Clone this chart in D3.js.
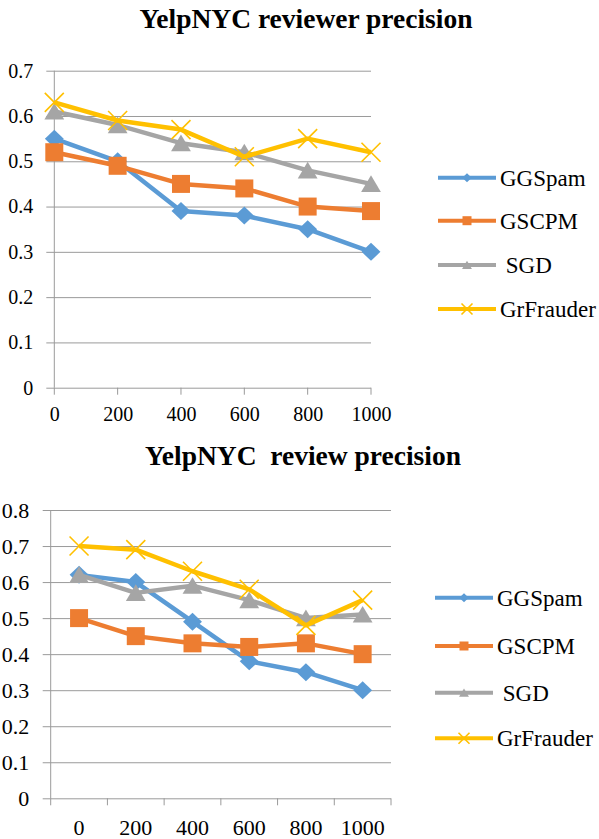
<!DOCTYPE html>
<html>
<head>
<meta charset="utf-8">
<script src="https://cdn.jsdelivr.net/npm/d3@7"></script>
<style>
  body { margin: 0; background: #fff; }
</style>
</head>
<body>
<div id="chart"></div>
<script>
const FONT = "'Liberation Serif', 'Times New Roman', serif";

// x categories shared by both charts
const xLabels = ["0", "200", "400", "600", "800", "1000"];
const seriesNames = ["GGSpam", "GSCPM", "SGD", "GrFrauder"];
const legendLabels = ["GGSpam", "GSCPM", " SGD", "GrFrauder"];
const colors = ["#5B9BD5", "#ED7D31", "#A5A5A5", "#FFC000"];

// chart 1: reviewer precision
const reviewerGGSpam = [0.55, 0.50, 0.39, 0.38, 0.35, 0.30];
const reviewerGSCPM = [0.52, 0.49, 0.45, 0.44, 0.40, 0.39];
const reviewerSGD = [0.61, 0.58, 0.54, 0.52, 0.48, 0.45];
const reviewerGrFrauder = [0.63, 0.59, 0.57, 0.51, 0.55, 0.52];
const reviewerTicks = [0, 0.1, 0.2, 0.3, 0.4, 0.5, 0.6, 0.7];

// chart 2: review precision
const reviewGGSpam = [0.62, 0.60, 0.49, 0.38, 0.35, 0.30];
const reviewGSCPM = [0.50, 0.45, 0.43, 0.42, 0.43, 0.40];
const reviewSGD = [0.62, 0.57, 0.59, 0.55, 0.50, 0.51];
const reviewGrFrauder = [0.70, 0.69, 0.63, 0.58, 0.48, 0.55];
const reviewTicks = [0, 0.1, 0.2, 0.3, 0.4, 0.5, 0.6, 0.7, 0.8];

const svg = d3.select("#chart").append("svg")
    .attr("width", 599)
    .attr("height", 839)
    .attr("font-family", FONT);

// marker paths, centred on 0,0
function markerPath(i, s) {
    if (i === 0) return `M0,${-s}L${s * 1.05},0L0,${s}L${-s * 1.05},0Z`;
    if (i === 1) return `M${-s},${-s}H${s}V${s}H${-s}Z`;
    if (i === 2) return `M0,${-s * 0.95}L${s * 1.1},${s * 0.9}L${-s * 1.1},${s * 0.9}Z`;
    return `M${-s},${-s}L${s},${s}M${s},${-s}L${-s},${s}`;
}

function drawMarker(g, i, x, y, s) {
    const p = g.append("path")
        .attr("transform", `translate(${x},${y})`)
        .attr("d", markerPath(i, s));
    if (i === 3) {
        p.attr("fill", "none").attr("stroke", colors[i]).attr("stroke-width", 1.6);
    } else {
        p.attr("fill", colors[i]);
    }
}

function drawChart(cfg) {
    const g = svg.append("g");
    const y = d3.scaleLinear().domain([0, cfg.yMax]).range([cfg.bottom, cfg.top]);
    let x;
    if (cfg.band) {
        x = d3.scaleBand().domain(xLabels).range([cfg.left, cfg.right]);
    } else {
        x = d3.scalePoint().domain(xLabels).range([cfg.left, cfg.right]);
    }
    const cx = d => cfg.band ? x(d) + x.bandwidth() / 2 : x(d);

    // title
    g.append("text")
        .attr("x", cfg.titleX)
        .attr("y", cfg.titleY)
        .attr("text-anchor", "middle")
        .style("font-family", FONT)
        .style("font-size", "27.5px")
        .style("font-weight", "bold")
        .style("white-space", "pre")
        .text(cfg.title);

    // y axis with gridlines
    const yAxis = g.append("g")
        .attr("transform", `translate(${cfg.left},0)`)
        .call(d3.axisLeft(y).tickValues(cfg.ticks).tickFormat(d => d === 0 ? "0" : d3.format(".1f")(d)).tickSizeOuter(0));
    yAxis.attr("font-family", FONT);
    yAxis.select(".domain").remove();
    yAxis.selectAll(".tick line")
        .attr("x1", -8)
        .attr("x2", cfg.right - cfg.left)
        .attr("stroke", "#9a9a9a");
    yAxis.selectAll(".tick text")
        .attr("x", -cfg.labelGap)
        .attr("fill", "#000")
        .style("font-family", FONT)
        .style("font-size", cfg.fontSize + "px");

    g.append("line")
        .attr("x1", cfg.left).attr("x2", cfg.left)
        .attr("y1", cfg.top).attr("y2", cfg.bottom)
        .attr("stroke", "#9a9a9a");

    // x axis
    const xAxis = g.append("g")
        .attr("transform", `translate(0,${cfg.bottom})`)
        .call(d3.axisBottom(x).tickSize(0));
    xAxis.attr("font-family", FONT);
    xAxis.select(".domain").remove();
    xAxis.selectAll(".tick text")
        .attr("y", cfg.xLabelY)
        .attr("dy", 0)
        .attr("fill", "#000")
        .style("font-family", FONT)
        .style("font-size", cfg.fontSize + "px");

    // x tick marks
    const tickXs = cfg.band
        ? xLabels.map(d => x(d)).concat([cfg.right])
        : xLabels.map(d => x(d));
    g.selectAll(null).data(tickXs).enter().append("line")
        .attr("x1", d => d).attr("x2", d => d)
        .attr("y1", cfg.bottom).attr("y2", cfg.bottom + 7)
        .attr("stroke", "#9a9a9a");

    // series lines + markers
    const line = d3.line().x((d, i) => cx(xLabels[i])).y(d => y(d));
    cfg.series.forEach((vals, si) => {
        g.append("path")
            .attr("d", line(vals))
            .attr("fill", "none")
            .attr("stroke", colors[si])
            .attr("stroke-width", 4.5)
            .attr("stroke-linejoin", "round");
        vals.forEach((v, i) => drawMarker(g, si, cx(xLabels[i]), y(v), si === 3 ? 9.5 : 9));
    });

    // legend
    legendLabels.forEach((name, i) => {
        const ly = cfg.legendY[i];
        g.append("line")
            .attr("x1", cfg.legendX).attr("x2", cfg.legendX + 58)
            .attr("y1", ly).attr("y2", ly)
            .attr("stroke", colors[i])
            .attr("stroke-width", 4);
        drawMarker(g, i, cfg.legendX + 29, ly, i === 3 ? 5.5 : 4.5);
        g.append("text")
            .attr("x", cfg.legendX + 62)
            .attr("y", ly)
            .attr("dy", "0.35em")
            .style("font-family", FONT)
            .style("font-size", "23px")
            .style("white-space", "pre")
            .text(name);
    });
}

drawChart({
    title: "YelpNYC reviewer precision",
    titleX: 306, titleY: 28,
    top: 70.7, bottom: 387.7, left: 54.3, right: 371,
    yMax: 0.7, ticks: reviewerTicks, band: false,
    labelGap: 21, xLabelY: 33, fontSize: 20,
    series: [reviewerGGSpam, reviewerGSCPM, reviewerSGD, reviewerGrFrauder],
    legendX: 438, legendY: [177.7, 220.7, 265, 309]
});

drawChart({
    title: "YelpNYC  review precision",
    titleX: 303, titleY: 465,
    top: 510, bottom: 798.3, left: 50.7, right: 391,
    yMax: 0.8, ticks: reviewTicks, band: true,
    labelGap: 21.5, xLabelY: 36.5, fontSize: 22,
    series: [reviewGGSpam, reviewGSCPM, reviewSGD, reviewGrFrauder],
    legendX: 435, legendY: [597.7, 646, 692.7, 738.3]
});
</script>
</body>
</html>
